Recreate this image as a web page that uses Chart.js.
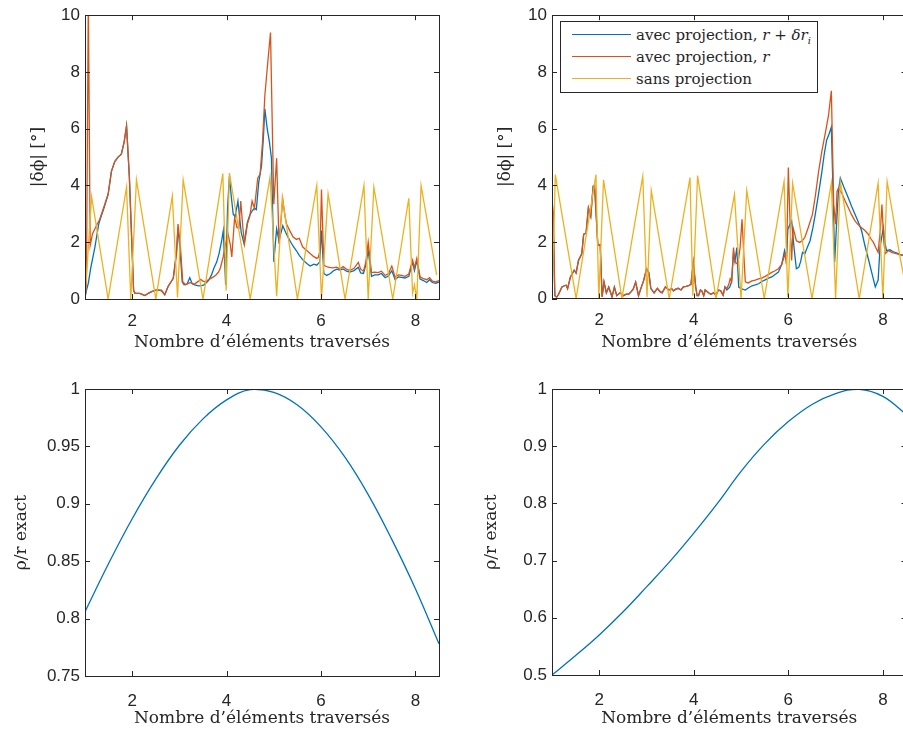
<!DOCTYPE html>
<html>
<head>
<meta charset="utf-8">
<script src="https://cdn.jsdelivr.net/npm/chart.js@4.4.0/dist/chart.umd.min.js"></script>
<style>
  html, body { margin: 0; padding: 0; background: #fff; overflow: hidden; width: 903px; height: 734px; }
  canvas { position: absolute; }
  #legend { position: absolute; left: 560px; top: 21px; width: 258px; height: 72px; box-sizing: border-box;
            border: 1px solid #262626; background: #fff; font-family: "DejaVu Serif", serif; font-size: 15px; color: #262626; }
  #legend .row { position: absolute; left: 0; height: 20px; line-height: 20px; white-space: nowrap; }
  #legend .sw { position: absolute; left: 11px; top: 9px; width: 59px; height: 0; border-top: 1.4px solid; }
  #legend .tx { position: absolute; left: 75px; top: 0; }
  #legend sub { font-size: 10px; line-height: 0; }
</style>
</head>
<body>
<canvas id="tl" width="460" height="365" style="left:0;top:0"></canvas>
<canvas id="tr" width="460" height="365" style="left:460px;top:0"></canvas>
<canvas id="bl" width="460" height="369" style="left:0;top:365px"></canvas>
<canvas id="br" width="460" height="369" style="left:460px;top:365px"></canvas>
<div id="legend"></div>
<script>
// tick labels
var xTicks = [2, 4, 6, 8];
var dphiTicks = [0, 2, 4, 6, 8, 10];
var ratioTicksL = [0.75, 0.8, 0.85, 0.9, 0.95, 1];
var ratioTicksR = [0.5, 0.6, 0.7, 0.8, 0.9, 1];

var seriesLabels = ["avec projection, r + δr_i", "avec projection, r", "sans projection"];
var legendLabels = ["avec projection, <i>r</i> + <i>δr<sub>i</sub></i>", "avec projection, <i>r</i>", "sans projection"];
var colors = ["#0072BD", "#D95319", "#EDB120"];

// haut gauche : |dphi| (degres) en fonction du nombre d'elements
var tlBlue = [[1.00,0.05],[1.03,0.3],[1.07,0.55],[1.12,1.08],[1.21,1.83],[1.29,2.64],[1.35,2.95],[1.40,3.2],[1.49,3.69],[1.56,4.5],[1.63,4.84],[1.70,5.0],[1.77,5.1],[1.83,5.54],[1.88,6.1],[1.94,4.3],[2.03,0.3],[2.06,0.2],[2.16,0.2],[2.27,0.12],[2.34,0.2],[2.41,0.26],[2.52,0.32],[2.62,0.3],[2.69,0.15],[2.76,0.44],[2.87,0.73],[2.94,1.7],[2.97,2.5],[3.02,1.6],[3.06,0.6],[3.10,0.5],[3.16,0.52],[3.22,0.75],[3.27,0.55],[3.32,0.5],[3.41,0.46],[3.47,0.47],[3.52,0.5],[3.57,0.57],[3.62,0.66],[3.68,0.85],[3.73,1.08],[3.79,1.3],[3.84,1.6],[3.89,2.0],[3.93,2.41],[3.98,0.5],[4.02,3.2],[4.06,4.32],[4.10,3.6],[4.14,2.99],[4.18,2.9],[4.24,3.45],[4.28,2.8],[4.31,2.35],[4.37,1.95],[4.44,2.7],[4.49,2.95],[4.54,3.1],[4.59,3.2],[4.63,3.15],[4.68,4.1],[4.74,4.7],[4.78,5.7],[4.81,6.7],[4.86,6.0],[4.91,5.5],[4.95,4.96],[5.00,1.31],[5.06,2.47],[5.11,2.06],[5.19,2.58],[5.25,2.35],[5.30,2.18],[5.36,2.0],[5.41,1.86],[5.48,1.7],[5.54,1.54],[5.62,1.37],[5.70,1.25],[5.77,1.16],[5.85,1.23],[5.91,1.19],[5.97,1.3],[6.01,2.41],[6.06,0.9],[6.12,0.83],[6.20,0.9],[6.27,1.0],[6.33,1.05],[6.40,1.02],[6.47,1.06],[6.54,0.98],[6.61,0.95],[6.70,1.0],[6.79,1.12],[6.84,0.92],[6.90,0.9],[6.95,1.2],[7.00,1.7],[7.07,0.8],[7.14,0.85],[7.21,0.85],[7.28,0.9],[7.36,0.75],[7.43,0.82],[7.50,1.0],[7.57,0.68],[7.64,0.78],[7.71,0.76],[7.78,0.74],[7.86,0.8],[7.94,1.3],[7.98,1.0],[8.03,1.35],[8.10,0.7],[8.17,0.65],[8.24,0.58],[8.30,0.68],[8.36,0.58],[8.43,0.55],[8.50,0.6]];
var tlOrange = [[1.00,0.0],[1.03,0.5],[1.07,10.5],[1.11,1.89],[1.16,2.3],[1.24,2.58],[1.31,2.8],[1.40,3.24],[1.49,3.69],[1.56,4.5],[1.63,4.84],[1.70,5.0],[1.77,5.1],[1.83,5.54],[1.88,6.1],[1.94,4.3],[2.03,0.3],[2.06,0.2],[2.16,0.2],[2.27,0.12],[2.34,0.2],[2.41,0.26],[2.52,0.32],[2.62,0.3],[2.69,0.15],[2.76,0.44],[2.87,0.73],[2.94,1.6],[2.97,2.64],[3.02,1.89],[3.07,0.61],[3.13,0.5],[3.19,0.55],[3.24,0.58],[3.29,0.52],[3.34,0.55],[3.40,0.62],[3.45,0.69],[3.50,0.63],[3.55,0.6],[3.61,0.68],[3.66,0.72],[3.72,0.78],[3.77,0.84],[3.83,0.95],[3.87,1.1],[3.93,1.5],[3.98,1.95],[4.03,2.29],[4.08,1.9],[4.11,1.48],[4.17,2.87],[4.22,2.52],[4.26,2.5],[4.30,3.45],[4.34,2.6],[4.38,1.95],[4.44,2.64],[4.49,2.9],[4.54,3.45],[4.59,3.2],[4.66,4.26],[4.71,4.4],[4.76,5.5],[4.81,7.16],[4.87,8.3],[4.93,9.39],[5.00,3.34],[5.06,4.96],[5.11,1.95],[5.19,3.51],[5.23,3.0],[5.27,2.64],[5.34,2.4],[5.41,2.18],[5.48,2.1],[5.54,2.14],[5.61,1.84],[5.69,1.72],[5.77,1.6],[5.84,1.5],[5.91,1.43],[5.94,1.46],[5.98,1.7],[6.01,3.86],[6.06,1.19],[6.15,1.12],[6.24,1.1],[6.33,1.12],[6.40,1.06],[6.47,1.14],[6.54,1.05],[6.61,1.0],[6.70,1.08],[6.79,1.29],[6.84,1.05],[6.90,0.98],[6.95,1.3],[7.00,2.0],[7.07,0.93],[7.14,0.95],[7.21,0.93],[7.28,0.98],[7.36,0.83],[7.43,0.9],[7.50,1.16],[7.57,0.77],[7.64,0.85],[7.71,0.83],[7.78,0.8],[7.86,0.88],[7.94,1.37],[7.98,1.1],[8.03,1.43],[8.10,0.77],[8.17,0.72],[8.24,0.68],[8.30,0.75],[8.36,0.63],[8.43,0.6],[8.50,0.65]];
var tlYellow = [[1.00,0.0],[1.14,3.6],[1.49,0.0],[1.88,3.94],[1.97,0.0],[2.09,4.2],[2.50,0.0],[2.85,3.63],[2.96,0.05],[3.08,4.2],[3.50,0.0],[3.92,4.42],[3.99,0.3],[4.06,4.44],[4.50,0.0],[4.92,4.3],[5.06,0.1],[5.18,3.58],[5.50,0.0],[5.91,4.0],[6.01,0.0],[6.15,3.71],[6.51,0.0],[6.91,4.0],[7.00,0.0],[7.12,3.94],[7.52,0.0],[7.86,3.55],[7.94,0.2],[7.98,0.5],[8.03,0.0],[8.12,4.0],[8.45,0.85]];

// haut droite
var trBlue = [[1.00,2.7],[1.03,2.2],[1.06,0.1],[1.10,0.05],[1.14,0.15],[1.21,0.41],[1.26,0.45],[1.30,0.47],[1.33,0.35],[1.39,0.76],[1.47,1.0],[1.51,0.9],[1.56,1.34],[1.63,1.58],[1.67,2.27],[1.72,2.3],[1.77,3.2],[1.82,2.9],[1.87,3.96],[1.90,4.0],[1.97,1.87],[2.02,1.9],[2.06,0.06],[2.10,0.59],[2.15,0.2],[2.20,0.4],[2.27,0.06],[2.32,0.4],[2.37,0.1],[2.44,0.2],[2.51,0.1],[2.57,0.15],[2.62,0.15],[2.68,0.25],[2.72,0.34],[2.77,0.58],[2.83,0.1],[2.89,0.4],[2.94,0.64],[3.00,1.05],[3.05,0.9],[3.09,0.36],[3.16,0.2],[3.23,0.36],[3.28,0.25],[3.33,0.2],[3.40,0.41],[3.47,0.3],[3.53,0.35],[3.57,0.27],[3.62,0.33],[3.67,0.36],[3.73,0.3],[3.78,0.41],[3.84,0.43],[3.89,0.45],[3.94,0.5],[3.99,1.28],[4.04,0.41],[4.07,0.1],[4.10,0.1],[4.14,0.3],[4.17,0.27],[4.21,0.1],[4.24,0.3],[4.31,0.2],[4.36,0.15],[4.42,0.2],[4.47,0.12],[4.52,0.3],[4.57,0.27],[4.62,0.12],[4.66,0.41],[4.70,0.3],[4.76,0.4],[4.80,0.6],[4.84,1.6],[4.87,1.3],[4.91,1.8],[4.95,0.4],[5.00,0.35],[5.09,0.3],[5.16,0.38],[5.23,0.45],[5.30,0.48],[5.37,0.52],[5.44,0.6],[5.51,0.66],[5.58,0.72],[5.65,0.76],[5.72,0.85],[5.79,0.93],[5.86,1.2],[5.92,1.69],[5.96,1.4],[5.99,2.45],[6.03,2.6],[6.07,2.74],[6.12,1.8],[6.17,1.05],[6.22,1.1],[6.26,1.3],[6.30,1.63],[6.35,1.58],[6.40,1.8],[6.46,2.04],[6.52,2.5],[6.57,2.97],[6.64,3.7],[6.71,4.48],[6.76,5.1],[6.81,5.59],[6.86,5.8],[6.91,6.05],[6.95,3.5],[6.98,1.28],[7.02,2.6],[7.06,3.8],[7.10,4.25],[7.17,3.95],[7.27,3.55],[7.34,3.25],[7.41,2.97],[7.48,2.7],[7.55,2.39],[7.62,1.87],[7.70,1.35],[7.77,0.88],[7.84,0.41],[7.90,0.65],[7.94,1.81],[8.01,2.5],[8.05,1.9],[8.08,1.69],[8.15,1.72],[8.22,1.65],[8.30,1.6],[8.36,1.55],[8.50,1.5]];
var trOrange = [[1.00,3.44],[1.03,3.0],[1.06,0.1],[1.10,0.05],[1.14,0.15],[1.21,0.41],[1.26,0.45],[1.30,0.47],[1.33,0.35],[1.39,0.76],[1.47,1.0],[1.51,0.9],[1.56,1.34],[1.63,1.58],[1.67,2.27],[1.72,2.3],[1.77,3.2],[1.82,2.9],[1.87,3.96],[1.90,4.0],[1.97,1.87],[2.02,1.9],[2.06,0.06],[2.10,0.59],[2.15,0.2],[2.20,0.4],[2.27,0.06],[2.32,0.4],[2.37,0.1],[2.44,0.2],[2.51,0.1],[2.57,0.15],[2.62,0.15],[2.68,0.25],[2.72,0.34],[2.77,0.58],[2.83,0.1],[2.89,0.4],[2.94,0.64],[3.00,1.05],[3.05,0.9],[3.09,0.36],[3.16,0.2],[3.23,0.36],[3.28,0.25],[3.33,0.2],[3.40,0.41],[3.47,0.3],[3.53,0.35],[3.57,0.27],[3.62,0.33],[3.67,0.36],[3.73,0.3],[3.78,0.41],[3.84,0.43],[3.89,0.45],[3.94,0.5],[3.99,1.28],[4.04,0.41],[4.07,0.1],[4.10,0.1],[4.14,0.3],[4.17,0.27],[4.21,0.1],[4.24,0.3],[4.31,0.2],[4.36,0.15],[4.42,0.2],[4.47,0.12],[4.52,0.3],[4.57,0.27],[4.62,0.12],[4.66,0.41],[4.70,0.35],[4.74,0.5],[4.77,0.7],[4.80,0.59],[4.84,1.8],[4.87,1.3],[4.93,1.2],[4.98,1.8],[5.02,2.8],[5.06,1.5],[5.09,0.59],[5.15,0.55],[5.23,0.62],[5.30,0.65],[5.37,0.69],[5.44,0.72],[5.51,0.78],[5.58,0.85],[5.65,0.92],[5.72,0.98],[5.79,1.05],[5.86,1.2],[5.93,1.58],[5.96,1.2],[6.00,4.62],[6.04,2.5],[6.07,1.34],[6.10,2.5],[6.17,2.04],[6.24,1.98],[6.30,2.05],[6.35,2.16],[6.42,2.5],[6.51,2.97],[6.57,3.6],[6.64,4.48],[6.71,5.2],[6.78,5.82],[6.85,6.46],[6.91,7.33],[6.96,3.32],[7.00,2.62],[7.03,3.78],[7.06,3.9],[7.13,3.72],[7.20,3.45],[7.27,3.2],[7.34,2.95],[7.41,2.74],[7.48,2.6],[7.55,2.5],[7.62,2.4],[7.69,2.27],[7.75,2.1],[7.80,1.98],[7.85,1.8],[7.90,1.63],[7.95,2.5],[7.98,3.32],[8.02,2.0],[8.05,1.58],[8.12,1.69],[8.20,1.62],[8.28,1.58],[8.36,1.55],[8.50,1.5]];
var trYellow = [[1.00,0.0],[1.07,4.37],[1.51,0.0],[1.93,4.37],[1.99,0.0],[2.09,4.19],[2.48,0.0],[2.92,4.31],[3.01,0.05],[3.10,3.82],[3.48,0.0],[3.92,4.27],[3.98,0.1],[4.08,4.34],[4.47,0.0],[4.86,3.67],[5.00,0.0],[5.12,3.81],[5.49,0.0],[5.91,4.13],[5.99,0.05],[6.09,4.07],[6.50,0.0],[6.91,4.07],[7.00,0.0],[7.10,4.13],[7.50,0.0],[7.90,4.07],[8.00,0.0],[8.09,4.13],[8.37,1.4],[8.50,0.3]];

// bas : rho / r exact
var ratioX = [1, 1.5, 2, 2.5, 3, 3.5, 4, 4.5, 5, 5.5, 6, 6.5, 7, 7.5, 8, 8.5];
var ratioLeft = [0.806, 0.848, 0.887, 0.9215, 0.951, 0.974, 0.9905, 0.9995, 0.997, 0.986, 0.967, 0.941, 0.908, 0.869, 0.826, 0.778];
var ratioRight = [0.500, 0.534, 0.570, 0.610, 0.654, 0.699, 0.748, 0.800, 0.856, 0.904, 0.943, 0.973, 0.992, 0.9995, 0.987, 0.955];

var ink = "#262626";
var tickFont = { family: "Liberation Sans", size: 17 };
var labelFont = { family: "DejaVu Serif", size: 17 };

// cadre MATLAB : boite + graduations vers l'interieur
var boxPlugin = {
  id: "box",
  afterDatasetsDraw: function(chart) {
    var ctx = chart.ctx, a = chart.chartArea, x = chart.scales.x, y = chart.scales.y;
    ctx.save();
    ctx.strokeStyle = ink;
    ctx.lineWidth = 1;
    ctx.beginPath();
    x.ticks.forEach(function(t) {
      var p = Math.round(x.getPixelForValue(t.value)) + 0.5;
      ctx.moveTo(p, a.bottom); ctx.lineTo(p, a.bottom - 5);
      ctx.moveTo(p, a.top); ctx.lineTo(p, a.top + 5);
    });
    y.ticks.forEach(function(t) {
      var p = Math.round(y.getPixelForValue(t.value)) + 0.5;
      ctx.moveTo(a.left, p); ctx.lineTo(a.left + 5, p);
      ctx.moveTo(a.right, p); ctx.lineTo(a.right - 5, p);
    });
    ctx.stroke();
    ctx.strokeRect(Math.round(a.left) + 0.5, Math.round(a.top) + 0.5, Math.round(a.right - a.left), Math.round(a.bottom - a.top));
    ctx.restore();
  }
};

function toPoints(arr) {
  return arr.map(function(p) { return { x: p[0], y: p[1] }; });
}

function makeChart(id, datasets, o) {
  return new Chart(document.getElementById(id), {
    type: "line",
    data: { datasets: datasets },
    options: {
      responsive: false,
      animation: false,
      devicePixelRatio: 1,
      layout: { padding: { top: o.padTop, right: o.padRight, left: 0, bottom: 0 } },
      plugins: { legend: { display: false }, tooltip: { enabled: false } },
      elements: { point: { radius: 0 }, line: { borderWidth: 1.3 } },
      scales: {
        x: {
          type: "linear", min: 1, max: 8.5,
          afterBuildTicks: function(s) { s.ticks = xTicks.map(function(v) { return { value: v }; }); },
          afterFit: function(s) { s.height = o.xH; },
          grid: { display: false, drawTicks: false },
          border: { display: false },
          ticks: { padding: o.xPad, font: tickFont, color: ink, maxRotation: 0 },
          title: { display: true, text: "Nombre d’éléments traversés", font: labelFont, color: ink, padding: { top: 0, bottom: o.xTitlePad } }
        },
        y: {
          type: "linear", min: o.yMin, max: o.yMax,
          afterBuildTicks: function(s) { s.ticks = o.yTicks.map(function(v) { return { value: v }; }); },
          afterFit: function(s) { s.width = o.yW; },
          grid: { display: false, drawTicks: false },
          border: { display: false },
          ticks: { padding: 5, font: tickFont, color: ink, callback: function(v) { return String(v); } },
          title: { display: true, text: o.yTitle, font: labelFont, color: ink, padding: { top: o.yTitlePad, bottom: 0 } }
        }
      }
    },
    plugins: [boxPlugin]
  });
}

function errorSets(blue, orange, yellow) {
  return [blue, orange, yellow].map(function(arr, i) {
    return { label: seriesLabels[i], data: toPoints(arr), borderColor: colors[i], borderWidth: 1.3,
             pointRadius: 0, tension: 0, clip: 0, order: 2 - i };
  });
}

function ratioSet(vals) {
  return [{ label: "rho/r", data: ratioX.map(function(x, i) { return { x: x, y: vals[i] }; }),
            borderColor: colors[0], borderWidth: 1.3, pointRadius: 0, tension: 0.4, clip: 0 }];
}

makeChart("tl", errorSets(tlBlue, tlOrange, tlYellow),
  { padTop: 12, padRight: 21, xH: 66, yW: 85, xPad: 12, xTitlePad: 11.8, yTitlePad: 28,
    yMin: 0, yMax: 10, yTicks: dphiTicks, yTitle: "|δϕ| [°]" });
var trChart = makeChart("tr", errorSets(trBlue, trOrange, trYellow),
  { padTop: 12, padRight: 13.5, xH: 66.5, yW: 92, xPad: 12, xTitlePad: 11.8, yTitlePad: 35.5,
    yMin: 0, yMax: 10, yTicks: dphiTicks, yTitle: "|δϕ| [°]" });
makeChart("bl", ratioSet(ratioLeft),
  { padTop: 24, padRight: 21, xH: 58, yW: 85, xPad: 15, xTitlePad: 4.8, yTitlePad: 11.8,
    yMin: 0.75, yMax: 1, yTicks: ratioTicksL, yTitle: "ρ/r exact" });
makeChart("br", ratioSet(ratioRight),
  { padTop: 24, padRight: 13.5, xH: 59, yW: 92, xPad: 15, xTitlePad: 4.8, yTitlePad: 21.8,
    yMin: 0.5, yMax: 1, yTicks: ratioTicksR, yTitle: "ρ/r exact" });

// legende (encadree, en haut a gauche du graphe de droite)
var legend = document.getElementById("legend");
trChart.data.datasets.forEach(function(ds, i) {
  var row = document.createElement("div");
  row.className = "row";
  row.style.top = (3 + i * 22) + "px";
  row.innerHTML = '<span class="sw" style="border-color:' + ds.borderColor + '"></span><span class="tx">' + legendLabels[i] + '</span>';
  legend.appendChild(row);
});
</script>
</body>
</html>
